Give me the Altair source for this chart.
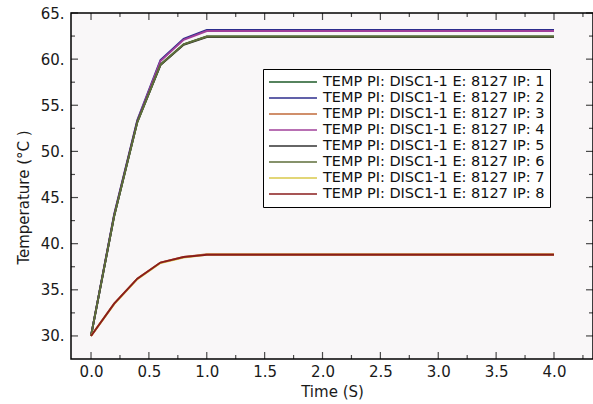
import altair as alt
import pandas as pd

time_s = [0.0, 0.2, 0.4, 0.6, 0.8, 1.0, 1.2, 1.4, 1.6, 1.8, 2.0,
          2.2, 2.4, 2.6, 2.8, 3.0, 3.2, 3.4, 3.6, 3.8, 4.0]

ip1 = [30.0, 43.0, 53.2, 59.4, 61.6, 62.45, 62.45, 62.45, 62.45, 62.45, 62.45,
       62.45, 62.45, 62.45, 62.45, 62.45, 62.45, 62.45, 62.45, 62.45, 62.45]
ip2 = [30.0, 43.2, 53.4, 59.9, 62.2, 63.15, 63.15, 63.15, 63.15, 63.15, 63.15,
       63.15, 63.15, 63.15, 63.15, 63.15, 63.15, 63.15, 63.15, 63.15, 63.15]
ip3 = [30.0, 33.5, 36.2, 37.95, 38.55, 38.85, 38.85, 38.85, 38.85, 38.85, 38.85,
       38.85, 38.85, 38.85, 38.85, 38.85, 38.85, 38.85, 38.85, 38.85, 38.85]
ip4 = [30.0, 43.1, 53.3, 59.8, 62.1, 63.05, 63.05, 63.05, 63.05, 63.05, 63.05,
       63.05, 63.05, 63.05, 63.05, 63.05, 63.05, 63.05, 63.05, 63.05, 63.05]
ip5 = [30.0, 43.0, 53.2, 59.35, 61.55, 62.4, 62.4, 62.4, 62.4, 62.4, 62.4,
       62.4, 62.4, 62.4, 62.4, 62.4, 62.4, 62.4, 62.4, 62.4, 62.4]
ip6 = [30.0, 43.0, 53.15, 59.4, 61.6, 62.45, 62.45, 62.45, 62.45, 62.45, 62.45,
       62.45, 62.45, 62.45, 62.45, 62.45, 62.45, 62.45, 62.45, 62.45, 62.45]
ip7 = [30.0, 33.45, 36.15, 37.9, 38.5, 38.8, 38.8, 38.8, 38.8, 38.8, 38.8,
       38.8, 38.8, 38.8, 38.8, 38.8, 38.8, 38.8, 38.8, 38.8, 38.8]
ip8 = [30.0, 33.5, 36.2, 37.95, 38.55, 38.8, 38.8, 38.8, 38.8, 38.8, 38.8,
       38.8, 38.8, 38.8, 38.8, 38.8, 38.8, 38.8, 38.8, 38.8, 38.8]

series_values = [ip1, ip2, ip3, ip4, ip5, ip6, ip7, ip8]
series_names = [
    "TEMP PI: DISC1-1 E: 8127 IP: 1",
    "TEMP PI: DISC1-1 E: 8127 IP: 2",
    "TEMP PI: DISC1-1 E: 8127 IP: 3",
    "TEMP PI: DISC1-1 E: 8127 IP: 4",
    "TEMP PI: DISC1-1 E: 8127 IP: 5",
    "TEMP PI: DISC1-1 E: 8127 IP: 6",
    "TEMP PI: DISC1-1 E: 8127 IP: 7",
    "TEMP PI: DISC1-1 E: 8127 IP: 8",
]
series_colors = ["#1e5a28", "#2c2c8c", "#c06a3a", "#a0409a",
                 "#333333", "#5e6e3a", "#d8c84a", "#8a1c1c"]

y_major = [30, 35, 40, 45, 50, 55, 60, 65]
y_minor = [32.5, 37.5, 42.5, 47.5, 52.5, 57.5, 62.5]
x_major = [0.0, 0.5, 1.0, 1.5, 2.0, 2.5, 3.0, 3.5, 4.0]
x_minor = [0.25, 0.75, 1.25, 1.75, 2.25, 2.75, 3.25, 3.75, 4.25]

W, H = 522, 346
xs = alt.Scale(domain=[-0.173, 4.337], nice=False, zero=False)
ys = alt.Scale(domain=[27.5, 65], nice=False, zero=False)

rows = []
for name, vals in zip(series_names, series_values):
    for t, v in zip(time_s, vals):
        rows.append({"time": t, "temp": v, "series": name})
df = pd.DataFrame(rows)

FONT = "DejaVu Sans"
X_TITLE = "Time (S)"
Y_TITLE = "Temperature (°C )"

x_axis = alt.Axis(values=x_major, format=".1f", ticks=False, domain=False,
                  grid=False, labelPadding=5, titlePadding=5,
                  labelFontSize=15, titleFontSize=15, labelColor="#1a1a1a",
                  titleColor="#1a1a1a", titleFontWeight="normal",
                  labelFont=FONT, titleFont=FONT)
y_axis = alt.Axis(values=y_major, labelExpr="format(datum.value, 'd') + '.'",
                  ticks=False, domain=False, grid=False, labelPadding=7,
                  titlePadding=9, labelFontSize=15, titleFontSize=15,
                  labelColor="#1a1a1a", titleColor="#1a1a1a", titleY=184,
                  titleFontWeight="normal", labelFont=FONT, titleFont=FONT)

lines = alt.Chart(df).mark_line(strokeWidth=1.9, clip=True).encode(
    x=alt.X("time:Q", scale=xs, title=X_TITLE, axis=x_axis),
    y=alt.Y("temp:Q", scale=ys, title=Y_TITLE, axis=y_axis),
    color=alt.Color("series:N",
                    scale=alt.Scale(domain=series_names, range=series_colors),
                    legend=alt.Legend(title=None, orient="none", legendX=192, legendY=56,
                                      fillColor="white", strokeColor="black",
                                      padding=5, symbolType="stroke", symbolSize=2300,
                                      symbolStrokeWidth=1.5, clipHeight=16,
                                      rowPadding=0, labelOffset=5, labelFontSize=14.5,
                                      labelFont=FONT, labelColor="#111", labelLimit=400)),
)


def tick_layer(values, channel, pos, size):
    d = pd.DataFrame({"v": values})
    if channel == "y":
        return alt.Chart(d).mark_tick(orient="horizontal", size=size, thickness=1.2,
                                      color="black").encode(
            y=alt.Y("v:Q", scale=ys, title=Y_TITLE, axis=y_axis), x=alt.value(pos))
    return alt.Chart(d).mark_tick(orient="vertical", size=size, thickness=1.2,
                                  color="black").encode(
        x=alt.X("v:Q", scale=xs, title=X_TITLE, axis=x_axis), y=alt.value(pos))


layers = [
    lines,
    tick_layer(y_major, "y", 3.5, 7),
    tick_layer(y_minor, "y", 2, 4),
    tick_layer(y_major, "y", W - 3.5, 7),
    tick_layer(y_minor, "y", W - 2, 4),
    tick_layer(x_major, "x", H - 3.5, 7),
    tick_layer(x_minor, "x", H - 2, 4),
    tick_layer(x_major, "x", 3.5, 7),
    tick_layer(x_minor, "x", 2, 4),
]

chart = alt.layer(*layers).properties(
    width=W, height=H,
    padding={"left": 71, "top": 13, "right": 0, "bottom": 45},
    autosize="none", background="white",
).configure(font=FONT).configure_view(stroke="black", strokeWidth=1.5, fill="#f9f7f8")

chart.save("out.html", embed_options={"renderer": "svg", "actions": False})
